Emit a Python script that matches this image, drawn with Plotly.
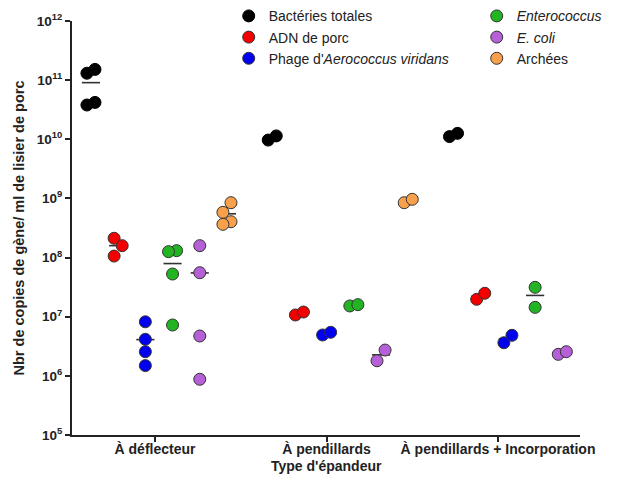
import numpy as np
import plotly.graph_objects as go

# Spreader types (x categories)
categories = ["À déflecteur", "À pendillards", "À pendillards + Incorporation"]

# Gene copies per ml of pig slurry, one list per spreader type
bacteries_totales = [[1.31e11, 1.52e11, 3.8e10, 4.2e10], [9.7e9, 1.14e10], [1.11e10, 1.26e10]]
adn_porc = [[2.12e8, 1.59e8, 1.06e8], [1.07e7, 1.2e7], [1.97e7, 2.49e7]]
phage_aerococcus = [[8.2e6, 4.15e6, 2.56e6, 1.49e6], [4.91e6, 5.45e6], [3.63e6, 4.85e6]]
enterococcus = [[1.31e8, 1.26e8, 5.27e7, 7.24e6], [1.52e7, 1.6e7], [3.14e7, 1.44e7]]
e_coli = [[1.59e8, 5.55e7, 4.72e6, 8.75e5], [1.8e6, 2.73e6], [2.31e6, 2.56e6]]
archees = [[8.47e8, 5.82e8, 4.04e8, 3.65e8], [8.47e8, 9.66e8], [1.48e9, 1.58e9]]

series_names = [
    "Bactéries totales",
    "ADN de porc",
    "Phage d'<i>Aerococcus viridans</i>",
    "<i>Enterococcus</i>",
    "<i>E. coli</i>",
    "Archées",
]
series_values = [bacteries_totales, adn_porc, phage_aerococcus, enterococcus, e_coli, archees]
series_colors = ["#000000", "#f20000", "#0000ee", "#22b422", "#b660d8", "#f8a04c"]
series_legend = ["legend", "legend", "legend", "legend2", "legend2", "legend2"]

y_exponents = list(range(5, 13))

# Horizontal layout of the dot columns (x-axis units, one unit per category tick)
GROUP_SHIFT = 0.023
GROUP_STEP = 1.057
SERIES_STEP = 0.1586
DODGE = 0.0235          # side shift for overlapping dots
CLUSTER_DECADES = 0.2   # dots closer than this (in log10) are spread sideways
MEAN_HALF = 0.053       # half length of the mean bar

FONT = "Arial, Liberation Sans, sans-serif"


def dodge_offsets(vals):
    """Alternate left/right shifts for dots whose values nearly coincide."""
    logs = np.log10(np.asarray(vals, dtype=float))
    order = np.argsort(logs)
    offsets = np.zeros(len(vals))
    cluster = [order[0]]
    clusters = []
    for prev, cur in zip(order[:-1], order[1:]):
        if logs[cur] - logs[prev] < CLUSTER_DECADES:
            cluster.append(cur)
        else:
            clusters.append(cluster)
            cluster = [cur]
    clusters.append(cluster)
    for c in clusters:
        if len(c) > 1:
            for i, idx in enumerate(c):
                offsets[idx] = (-1 if i % 2 == 0 else 1) * DODGE
    return offsets


fig = go.Figure()

# Mean bars, drawn first so the dots sit on top of them
mx, my = [], []
for s, groups in enumerate(series_values):
    for g, vals in enumerate(groups):
        cx = GROUP_SHIFT + g * GROUP_STEP + (s - 2.5) * SERIES_STEP
        m = float(np.mean(vals))
        mx += [cx - MEAN_HALF, cx + MEAN_HALF, None]
        my += [m, m, None]
fig.add_trace(go.Scatter(
    x=mx, y=my, mode="lines", line=dict(color="#333333", width=1.6),
    showlegend=False, hoverinfo="skip", cliponaxis=False,
))

for s, (name, groups, color, leg) in enumerate(zip(series_names, series_values, series_colors, series_legend)):
    xs, ys = [], []
    for g, vals in enumerate(groups):
        cx = GROUP_SHIFT + g * GROUP_STEP + (s - 2.5) * SERIES_STEP
        offs = dodge_offsets(vals)
        xs += list(cx + offs)
        ys += list(vals)
    fig.add_trace(go.Scatter(
        x=xs, y=ys, mode="markers", name=name, legend=leg, legendgroup=name,
        marker=dict(size=12, color=color, symbol="circle",
                    line=dict(color="#000000" if color == "#000000" else "#333333", width=1)),
        cliponaxis=False,
    ))

legend_common = dict(
    font=dict(family=FONT, size=14, color="#222222"),
    bgcolor="rgba(0,0,0,0)", borderwidth=0,
    xanchor="left", yanchor="top",
    traceorder="grouped", tracegroupgap=0,
)

fig.update_layout(
    width=632, height=480,
    margin=dict(l=72, r=52, t=21, b=45, autoexpand=False),
    paper_bgcolor="white", plot_bgcolor="white",
    font=dict(family=FONT, color="#222222"),
    legend=dict(x=0.3085, y=1.05, **legend_common),
    legend2=dict(x=0.7967, y=1.05, **legend_common),
    xaxis=dict(
        range=[-0.484, 2.478], tickmode="array",
        tickvals=list(range(len(categories))),
        ticktext=[f"<b>{c}</b>" for c in categories],
        tickfont=dict(family=FONT, size=14, color="#222222"),
        ticks="outside", ticklen=5, tickwidth=1.5, tickcolor="#222222",
        ticklabelstandoff=-5,
        showline=True, linewidth=2, linecolor="#222222",
        showgrid=False, zeroline=False, automargin=False,
    ),
    yaxis=dict(
        type="log", range=[5, 12], tickmode="array",
        tickvals=[10.0 ** e for e in y_exponents],
        ticktext=[f"<b>10<sup>{e}</sup></b>" for e in y_exponents],
        tickfont=dict(family=FONT, size=13.5, color="#222222"),
        ticks="outside", ticklen=5, tickwidth=1.5, tickcolor="#222222",
        showline=True, linewidth=2, linecolor="#222222",
        showgrid=False, zeroline=False, automargin=False,
        title=dict(text="<b>Nbr de copies de gène/ ml de lisier de porc</b>", standoff=9,
                   font=dict(family=FONT, size=14.5, color="#222222")),
    ),
    annotations=[dict(
        text="<b>Type d'épandeur</b>", xref="paper", yref="paper",
        x=0.5, y=-0.0749, xanchor="center", yanchor="middle", showarrow=False,
        font=dict(family=FONT, size=14, color="#222222"),
    )],
)

fig.write_html("out.html")
